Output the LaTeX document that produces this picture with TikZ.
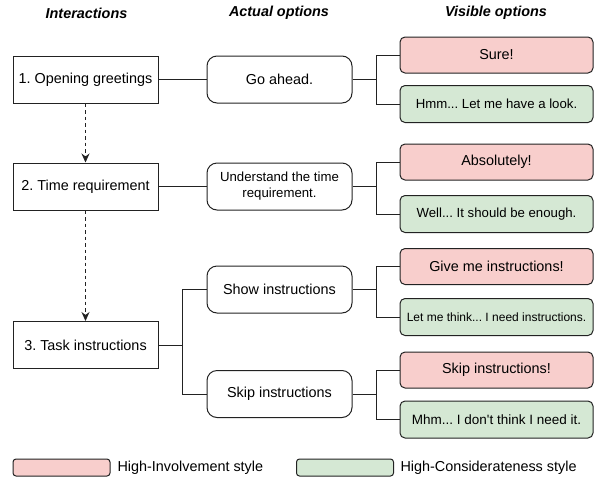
\documentclass[tikz,border=0pt]{standalone}
\usepackage{fontspec}
\setmainfont{Liberation Sans}
\usetikzlibrary{arrows.meta}
\definecolor{hired}{HTML}{F8CECC}
\definecolor{higreen}{HTML}{D5E8D4}
\definecolor{stroke}{HTML}{222222}
\frenchspacing
\begin{document}
\begin{tikzpicture}[x=1pt,y=-1pt,
  line width=1pt,
  every node/.style={inner sep=0pt, align=center},
  fsA/.style={font=\fontsize{14.4}{17}\selectfont},
  fsB/.style={font=\fontsize{13.2}{16}\selectfont},
  fsC/.style={font=\fontsize{12}{14}\selectfont},
  header/.style={font=\fontsize{14.4}{17}\selectfont\bfseries\itshape},
  interbox/.style={draw=stroke, minimum width=145pt, minimum height=47pt, fsA},
  actbox/.style={draw=stroke, rounded corners=10pt, minimum width=145pt, minimum height=47pt, fsA},
  redbox/.style={draw=stroke, fill=hired, rounded corners=5pt, minimum width=193pt, minimum height=36pt, fsA},
  greenbox/.style={draw=stroke, fill=higreen, rounded corners=5pt, minimum width=193pt, minimum height=37pt, fsB},
  conn/.style={draw=stroke, line width=1pt},
  dasharrow/.style={draw=stroke, line width=1pt, dash pattern=on 3.5pt off 3pt, -{Stealth[length=9pt,width=8pt]}},
  legbox/.style={draw=stroke, rounded corners=3pt, minimum width=97pt, minimum height=17pt}
]
\useasboundingbox (0,0) rectangle (597,480);

% headers
\node[header] (h1) at (86.5,13) {Interactions};
\node[header] (h2) at (279,13) {Actual options};
\node[header] (h3) at (496,13) {Visible options};

% interactions
\node[interbox] (l1) at (85.5,79.5) {1. Opening greetings};
\node[interbox] (l2) at (85.5,186.5) {2. Time requirement};
\node[interbox] (l3) at (85.5,345) {3. Task instructions};

% actual options
\node[actbox] (m1) at (279.5,79.5) {Go ahead.};
\node[actbox,fsB] (m2) at (279.5,186.5) {Understand the time\\requirement.};
\node[actbox] (m3) at (279.5,289.5) {Show instructions};
\node[actbox] (m4) at (279.5,394) {Skip instructions};

% visible options
\node[redbox] (r1a) at (496.5,55) {Sure!};
\node[greenbox] (r1b) at (496.5,104) {Hmm... Let me have a look.};
\node[redbox] (r2a) at (496.5,162) {Absolutely!};
\node[greenbox] (r2b) at (496.5,214) {Well... It should be enough.};
\node[redbox] (r3a) at (496.5,266.5) {Give me instructions!};
\node[greenbox,fsC] (r3b) at (496.5,317) {Let me think... I need instructions.};
\node[redbox] (r4a) at (496.5,370) {Skip instructions!};
\node[greenbox,font=\fontsize{13.5}{16}\selectfont] (r4b) at (496.5,419.5) {Mhm... I don\textquotesingle t think I need it.};

% dashed arrows
\draw[dasharrow] (l1.south) -- (l2.north);
\draw[dasharrow] (l2.south) -- (l3.north);

% interaction -> actual
\draw[conn] (l1.east) -- (m1.west);
\draw[conn] (l2.east) -- (m2.west);
\coordinate (b0) at (182,345);
\draw[conn] (l3.east) -- (b0);
\draw[conn] (b0) |- (m3.west);
\draw[conn] (b0) |- (m4.west);

% actual -> visible
\coordinate (b1) at (376,79.5);
\coordinate (b2) at (376,186.5);
\coordinate (b3) at (376,289.5);
\coordinate (b4) at (376,394);
\draw[conn] (m1.east) -- (b1); \draw[conn] (b1) |- (r1a.west); \draw[conn] (b1) |- (r1b.west);
\draw[conn] (m2.east) -- (b2); \draw[conn] (b2) |- (r2a.west); \draw[conn] (b2) |- (r2b.west);
\draw[conn] (m3.east) -- (b3); \draw[conn] (b3) |- (r3a.west); \draw[conn] (b3) |- (r3b.west);
\draw[conn] (m4.east) -- (b4); \draw[conn] (b4) |- (r4a.west); \draw[conn] (b4) |- (r4b.west);

% legend
\node[legbox, fill=hired] (lg1) at (61.5,467.5) {};
\node[fsA, anchor=west] (lt1) at (117,467.5) {High-Involvement style};
\node[legbox, fill=higreen] (lg2) at (345,467.5) {};
\node[fsA, anchor=west] (lt2) at (400,467.5) {High-Considerateness style};
\end{tikzpicture}
\end{document}
